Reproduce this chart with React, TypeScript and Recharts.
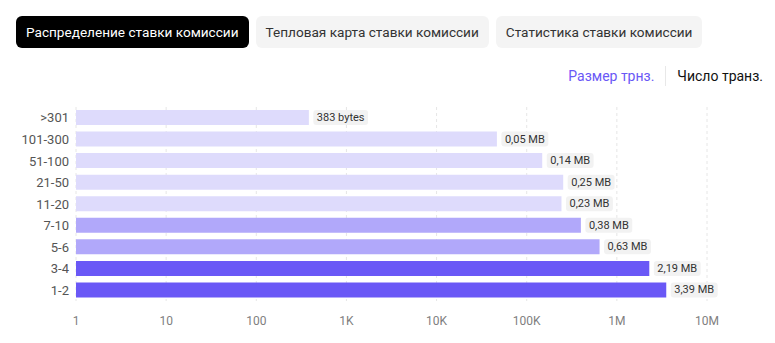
import React from 'react';
import { BarChart, Bar, XAxis, YAxis, CartesianGrid, LabelList, Cell } from 'recharts';

const categories = ['>301', '101-300', '51-100', '21-50', '11-20', '7-10', '5-6', '3-4', '1-2'];
const sizeBytes = [383, 46700, 148600, 254000, 243000, 399000, 643000, 2290000, 3532000];
const sizeLabels = ['383 bytes', '0,05 MB', '0,14 MB', '0,25 MB', '0,23 MB', '0,38 MB', '0,63 MB', '2,19 MB', '3,39 MB'];
const xTicks = [1, 10, 100, 1000, 10000, 100000, 1000000, 10000000];
const xTickLabels = ['1', '10', '100', '1K', '10K', '100K', '1M', '10M'];
const tabs = ['Распределение ставки комиссии', 'Тепловая карта ставки комиссии', 'Статистика ставки комиссии'];
const legendItems = ['Размер трнз.', 'Число транз.'];

const barColors = ['#dedbfc', '#dedbfc', '#dedbfc', '#dedbfc', '#dedbfc', '#b1a8fa', '#b1a8fa', '#6a58f6', '#6a58f6'];

const data = categories.map((c, i) => ({ name: c, value: sizeBytes[i], label: sizeLabels[i] }));

const FONT = 'Roboto, "Noto Sans", sans-serif';

let ctx: CanvasRenderingContext2D | null = null;
function measure(text: string, font: string): number {
  if (!ctx) {
    const c = document.createElement('canvas');
    ctx = c.getContext('2d');
  }
  if (!ctx) return text.length * 6;
  ctx.font = font;
  return ctx.measureText(text).width;
}

const ValueLabel = (props: any) => {
  const { x, y, width, height, index } = props;
  const text = sizeLabels[index];
  const tw = measure(text, '11px Roboto');
  const bx = x + width + 4.5;
  const bh = 15;
  const by = y + height / 2 - bh / 2;
  return (
    <g>
      <rect x={bx} y={by} width={tw + 7} height={bh} rx={3} ry={3} fill="#f2f2f2" />
      <text x={bx + 3.5} y={by + bh / 2} dominantBaseline="central" fontSize={11} fill="#333" fontFamily={FONT}>
        {text}
      </text>
    </g>
  );
};

export default function App() {
  return (
    <div style={{ position: 'absolute', left: 0, top: 0, width: 775, height: 343, background: '#fff', fontFamily: FONT }}>
      <div style={{ position: 'absolute', left: 16, top: 16, display: 'flex', gap: 7 }}>
        {tabs.map((t, i) => (
          <div
            key={t}
            style={{
              height: 32,
              lineHeight: '32px',
              padding: '0 10px',
              borderRadius: 6,
              fontSize: 13.6,
              background: i === 0 ? '#000' : '#f4f4f4',
              color: i === 0 ? '#fff' : '#333',
              whiteSpace: 'nowrap',
            }}
          >
            {t}
          </div>
        ))}
      </div>
      <div style={{ position: 'absolute', right: 12, top: 64, display: 'flex', alignItems: 'center', fontSize: 14, height: 24 }}>
        <span style={{ color: '#6a58f6' }}>{legendItems[0]}</span>
        <span style={{ display: 'inline-block', width: 1, height: 20, background: '#e8e8e8', margin: '0 11px' }} />
        <span style={{ color: '#111' }}>{legendItems[1]}</span>
      </div>
      <div style={{ position: 'absolute', left: 0, top: 0 }}>
        <BarChart
          width={775}
          height={343}
          data={data}
          layout="vertical"
          margin={{ top: 107, right: 68, bottom: 12, left: 0 }}
        >
          <CartesianGrid horizontal={false} vertical strokeDasharray="3 3" stroke="#e6e6e6" />
          <XAxis
            type="number"
            scale="log"
            domain={[1, 10000000]}
            ticks={xTicks}
            tickFormatter={(v: number) => xTickLabels[xTicks.indexOf(v)] ?? String(v)}
            axisLine={false}
            tickLine={false}
            tickMargin={9}
            height={30}
            tick={{ fontSize: 12, fill: '#808080', fontFamily: FONT }}
            allowDataOverflow
          />
          <YAxis
            type="category"
            dataKey="name"
            width={76}
            axisLine={false}
            tickLine={false}
            tickMargin={1}
            tick={{ fontSize: 13, fill: '#555', fontFamily: FONT }}
            interval={0}
          />
          <Bar dataKey="value" barSize={15} isAnimationActive={false}>
            {data.map((d, i) => (
              <Cell key={d.name} fill={barColors[i]} />
            ))}
            <LabelList dataKey="label" content={<ValueLabel />} />
          </Bar>
        </BarChart>
      </div>
    </div>
  );
}
